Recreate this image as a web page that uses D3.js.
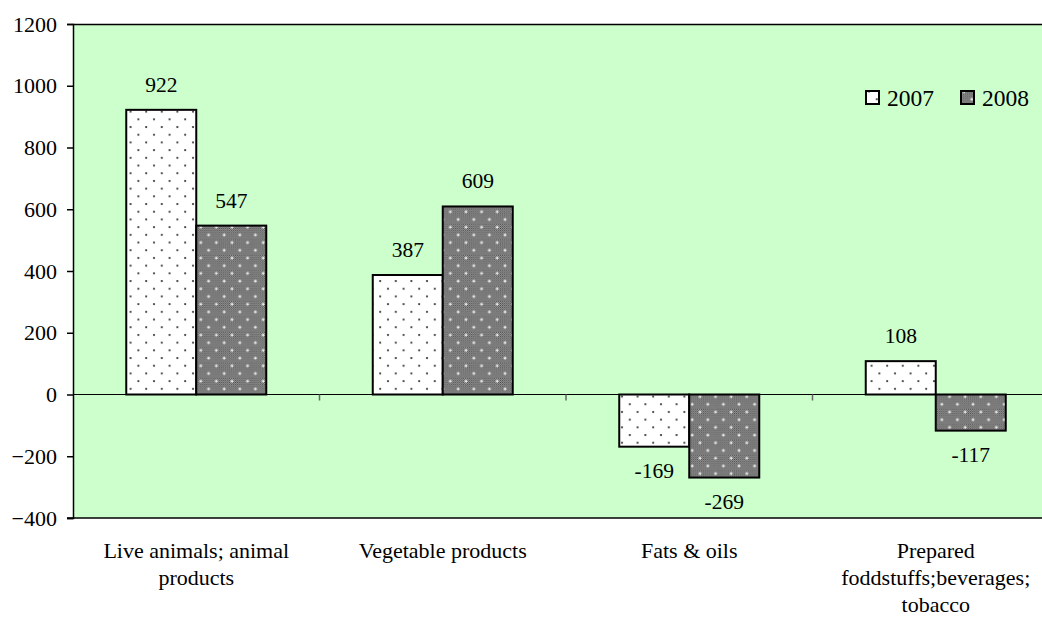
<!DOCTYPE html>
<html>
<head>
<meta charset="utf-8">
<script src="https://cdn.jsdelivr.net/npm/d3@7"></script>
<style>
  body { margin: 0; background: #fff; }
</style>
</head>
<body>
<svg id="chart" width="1042" height="617"></svg>
<script>
//categories, each label split in lines
const categories = [
  ["Live animals; animal", "products"],
  ["Vegetable products"],
  ["Fats & oils"],
  ["Prepared", "foddstuffs;beverages;", "tobacco"]
];
const years = ["2007", "2008"];
const values2007 = [922, 387, -169, 108];
const values2008 = [547, 609, -269, -117];
const yTicks = [-400, -200, 0, 200, 400, 600, 800, 1000, 1200];

const FONT = "'Liberation Serif', 'Times New Roman', serif";
const margin = {left: 73, top: 24, bottom: 99};
const width = 1059 - margin.left; //plot runs past the right edge of the picture
const height = 617 - margin.top - margin.bottom;

const svg = d3.select("#chart").attr("font-family", FONT);
const defs = svg.append("defs");

//dotted pattern for 2007
const dots = defs.append("pattern")
  .attr("id", "dots").attr("patternUnits", "userSpaceOnUse")
  .attr("width", 15.6).attr("height", 15.4);
dots.append("rect").attr("width", 15.6).attr("height", 15.4).attr("fill", "#fff");
dots.append("circle").attr("cx", 3).attr("cy", 3).attr("r", 1.1).attr("fill", "#333");
dots.append("circle").attr("cx", 10.8).attr("cy", 10.7).attr("r", 1.1).attr("fill", "#333");

//fine checker used inside the 2008 pattern
const checker = defs.append("pattern")
  .attr("id", "checker").attr("patternUnits", "userSpaceOnUse")
  .attr("width", 2).attr("height", 2);
checker.append("rect").attr("width", 2).attr("height", 2).attr("fill", "#b4b4b4");
checker.append("rect").attr("width", 1).attr("height", 1).attr("fill", "#404040");
checker.append("rect").attr("x", 1).attr("y", 1).attr("width", 1).attr("height", 1).attr("fill", "#404040");

const cross = defs.append("pattern")
  .attr("id", "cross").attr("patternUnits", "userSpaceOnUse")
  .attr("width", 15.6).attr("height", 15.4);
cross.append("rect").attr("width", 15.6).attr("height", 15.4).attr("fill", "url(#checker)");
[[3, 3], [10.8, 10.7]].forEach(p => {
  cross.append("rect").attr("x", p[0] - 1.5).attr("y", p[1] - 0.5).attr("width", 3).attr("height", 1).attr("fill", "#fff");
  cross.append("rect").attr("x", p[0] - 0.5).attr("y", p[1] - 1.5).attr("width", 1).attr("height", 3).attr("fill", "#fff");
});
const fills = ["url(#dots)", "url(#cross)"];

const g = svg.append("g").attr("transform", "translate(" + margin.left + "," + margin.top + ")");

const x0 = d3.scaleBand().domain(d3.range(categories.length)).range([0, width]);
const x1 = d3.scaleBand().domain(years).range([0, 140]);
const y = d3.scaleLinear().domain([-400, 1200]).range([height, 0]);

//plot background
g.append("rect")
  .attr("width", width).attr("height", height)
  .attr("fill", "#ccffcc");
g.append("line").attr("x1", 0).attr("x2", width).attr("y1", 0.5).attr("y2", 0.5)
  .attr("stroke", "#000").attr("stroke-width", 1.5);
g.append("line").attr("x1", -6).attr("x2", width).attr("y1", height).attr("y2", height)
  .attr("stroke", "#000").attr("stroke-width", 1.5);

//y axis
const yAxis = g.append("g")
  .call(d3.axisLeft(y).tickValues(yTicks).tickFormat(d3.format("d")).tickSize(6).tickPadding(10));
yAxis.attr("font-family", FONT).attr("font-size", 22);
yAxis.select(".domain").attr("stroke", "#000").attr("stroke-width", 1.5);
yAxis.selectAll(".tick line").attr("stroke", "#000").attr("stroke-width", 1.5);
yAxis.selectAll(".tick text").attr("fill", "#000");

//zero line with category ticks
g.append("line").attr("x1", 0).attr("x2", width).attr("y1", y(0)).attr("y2", y(0))
  .attr("stroke", "#000").attr("stroke-width", 1.2);
g.selectAll(".cat-tick")
  .data(d3.range(1, categories.length))
  .enter().append("line")
  .attr("class", "cat-tick")
  .attr("x1", d => x0(d)).attr("x2", d => x0(d))
  .attr("y1", y(0)).attr("y2", y(0) + 6)
  .attr("stroke", "#666").attr("stroke-width", 1.5);

//bars
const series = [values2007, values2008];
const barData = [];
categories.forEach((c, i) => {
  years.forEach((yr, j) => {
    barData.push({cat: i, year: yr, idx: j, value: series[j][i]});
  });
});
const barX = d => x0(d.cat) + (x0.bandwidth() - 140) / 2 + x1(d.year);

g.selectAll(".bar")
  .data(barData)
  .enter().append("rect")
  .attr("class", "bar")
  .attr("x", barX)
  .attr("y", d => y(Math.max(0, d.value)))
  .attr("width", x1.bandwidth())
  .attr("height", d => Math.abs(y(d.value) - y(0)))
  .attr("fill", d => fills[d.idx])
  .attr("stroke", "#000").attr("stroke-width", 2);

//value labels
g.selectAll(".val")
  .data(barData)
  .enter().append("text")
  .attr("class", "val")
  .attr("x", d => barX(d) + x1.bandwidth() / 2)
  .attr("y", d => d.value >= 0 ? y(d.value) - 18 : y(d.value) + 31)
  .attr("text-anchor", "middle")
  .attr("font-size", 21.5)
  .text(d => d.value);

//category labels
const catLabels = g.selectAll(".cat")
  .data(categories)
  .enter().append("text")
  .attr("class", "cat")
  .attr("text-anchor", "middle")
  .attr("transform", (d, i) => "translate(" + (x0(i) + x0.bandwidth() / 2) + "," + (height + 40) + ")")
  .attr("font-size", 22);
catLabels.selectAll("tspan")
  .data(d => d)
  .enter().append("tspan")
  .attr("x", 0)
  .attr("y", (d, i) => i * 27)
  .text(d => d);

//legend
const legend = g.append("g").attr("transform", "translate(793,80)");
years.forEach((yr, j) => {
  const item = legend.append("g").attr("transform", "translate(" + (j * 95) + ",0)");
  item.append("rect")
    .attr("x", 0).attr("y", -13).attr("width", 13).attr("height", 13)
    .attr("fill", fills[j]).attr("stroke", "#000").attr("stroke-width", 2);
  item.append("text")
    .attr("x", 21).attr("y", 2)
    .attr("font-size", 23.5)
    .text(yr);
});
</script>
</body>
</html>
